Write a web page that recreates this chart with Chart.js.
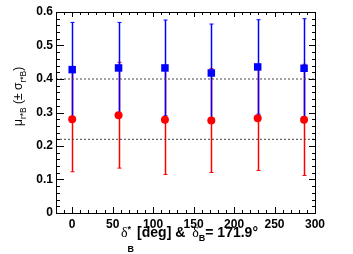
<!DOCTYPE html>
<html>
<head>
<meta charset="utf-8">
<script src="https://cdn.jsdelivr.net/npm/chart.js@4"></script>
<style>
  html, body { margin: 0; padding: 0; background: #fff; }
  #wrap { width: 353px; height: 254px; }
</style>
</head>
<body>
<div id="wrap"><canvas id="chart" width="353" height="254"></canvas></div>
<script>
// delta*_B values (deg)
const deltaStar = [0, 57.3, 114.6, 171.9, 229.2, 286.5];
// blue squares: mu and sigma
const blueMu = [0.428, 0.433, 0.433, 0.418, 0.436, 0.432];
const blueSigma = [0.141, 0.136, 0.143, 0.146, 0.141, 0.148];
// red circles: mu and sigma
const redMu = [0.280, 0.292, 0.278, 0.276, 0.283, 0.278];
const redSigma = [0.157, 0.158, 0.163, 0.155, 0.156, 0.166];
// reference lines
const refLines = [0.4, 0.22];
const xTickValues = [0, 50, 100, 150, 200, 250, 300];

const toPts = (mu, sig) => deltaStar.map((x, i) => ({ x, y: mu[i], err: sig[i] }));

// error bars drawn before the markers, red first so blue sits on top
const errorBars = {
  id: 'errorBars',
  beforeDatasetsDraw(chart) {
    const ctx = chart.ctx, xs = chart.scales.x, ys = chart.scales.y;
    const sets = chart.data.datasets.filter(ds => ds.errBars)
      .sort((a, b) => a.errOrder - b.errOrder);
    sets.forEach(ds => {
      ctx.save();
      ctx.strokeStyle = ds.borderColor;
      ds.data.forEach(p => {
        const px = Math.round(xs.getPixelForValue(p.x)) + 0.5;
        const top = ys.getPixelForValue(p.y + p.err);
        const bot = ys.getPixelForValue(p.y - p.err);
        ctx.lineWidth = 1.5;
        ctx.beginPath(); ctx.moveTo(px, top); ctx.lineTo(px, bot); ctx.stroke();
        ctx.lineWidth = 1;
        ctx.beginPath();
        ctx.moveTo(px - 2, top); ctx.lineTo(px + 2, top);
        ctx.moveTo(px - 2, bot); ctx.lineTo(px + 2, bot);
        ctx.stroke();
      });
      ctx.restore();
    });
  }
};

// ROOT style frame with inward ticks on all sides, plus titles
const frame = {
  id: 'frame',
  afterDraw(chart) {
    const ctx = chart.ctx, a = chart.chartArea, xs = chart.scales.x, ys = chart.scales.y;
    ctx.save();
    ctx.strokeStyle = '#000';
    ctx.lineWidth = 1;
    ctx.strokeRect(Math.round(a.left) + 0.5, Math.round(a.top) + 0.5,
      Math.round(a.right - a.left), Math.round(a.bottom - a.top));
    ctx.beginPath();
    for (let v = -20; v <= 300; v += 10) {
      const px = Math.round(xs.getPixelForValue(v)) + 0.5;
      const major = v % 50 === 0;
      const lb = major ? 6 : 3, lt = major ? 5 : 3;
      ctx.moveTo(px, a.bottom); ctx.lineTo(px, a.bottom - lb);
      ctx.moveTo(px, a.top); ctx.lineTo(px, a.top + lt);
    }
    for (let k = 0; k <= 30; k++) {
      const v = k * 0.02;
      const py = Math.round(ys.getPixelForValue(v)) + 0.5;
      const major = k % 5 === 0;
      const ll = major ? 8 : 4, lr = major ? 6 : 3;
      ctx.moveTo(a.left, py); ctx.lineTo(a.left + ll, py);
      ctx.moveTo(a.right, py); ctx.lineTo(a.right - lr, py);
    }
    ctx.stroke();

    // x title: δ*_B [deg] & δ_B= 171.9°
    ctx.fillStyle = '#000';
    ctx.textBaseline = 'alphabetic';
    const bold = 'bold 14px "Liberation Sans"';
    const serif = '14px "Liberation Serif"';
    const sub = 'bold 9px "Liberation Sans"';
    let x = 121;
    const put = (t, f, dy, adv) => {
      ctx.font = f;
      ctx.fillText(t, x, 237 + dy);
      if (adv) x += ctx.measureText(t).width;
    };
    put('δ', serif, 0, true);
    put('*', sub, -5, false);
    put('B', sub, 15, true);
    x += 3;
    put('[deg] & ', bold, 0, true);
    x += 3;
    put('δ', serif, 0, true);
    put('B', sub, 4, true);
    put('= 171.9°', bold, 0, true);

    // y title: μ_{r*B} (± σ_{r*B}), rotated
    ctx.translate(22, 126);
    ctx.rotate(-Math.PI / 2);
    const yparts = [
      { t: 'μ', f: '12px "Liberation Sans"', dy: 0 },
      { t: 'r*B', f: '8.5px "Liberation Sans"', dy: 4 },
      { t: ' (± σ', f: '12px "Liberation Sans"', dy: 0 },
      { t: 'r*B', f: '8.5px "Liberation Sans"', dy: 4 },
      { t: ')', f: '12px "Liberation Sans"', dy: 0 }
    ];
    let yx = 0;
    yparts.forEach(p => {
      ctx.font = p.f;
      ctx.fillText(p.t, yx, p.dy);
      yx += ctx.measureText(p.t).width;
    });
    ctx.restore();
  }
};

const lineDs = v => ({
  type: 'line',
  data: [{ x: -20, y: v }, { x: 300, y: v }],
  borderColor: '#444',
  borderWidth: 1,
  borderDash: [2, 2],
  pointRadius: 0,
  order: 3
});

new Chart(document.getElementById('chart'), {
  type: 'scatter',
  data: {
    datasets: [
      lineDs(refLines[0]),
      lineDs(refLines[1]),
      {
        data: toPts(blueMu, blueSigma),
        errBars: true,
        errOrder: 2,
        borderColor: '#0000ff',
        backgroundColor: '#0000ff',
        pointStyle: 'rect',
        pointRadius: 5.3,
        borderWidth: 0,
        order: 2
      },
      {
        data: toPts(redMu, redSigma),
        errBars: true,
        errOrder: 1,
        borderColor: '#ff0000',
        backgroundColor: '#ff0000',
        pointStyle: 'circle',
        pointRadius: 4,
        borderWidth: 0,
        order: 1
      }
    ]
  },
  options: {
    responsive: false,
    animation: false,
    layout: { padding: { top: 12, right: 38, left: 0, bottom: 0 } },
    plugins: { legend: { display: false }, tooltip: { enabled: false } },
    scales: {
      x: {
        type: 'linear',
        min: -20, max: 300,
        grid: { display: false, drawTicks: false },
        border: { display: false },
        afterBuildTicks: s => { s.ticks = xTickValues.map(v => ({ value: v })); },
        afterFit: s => { s.height = 41; },
        ticks: { color: '#000', padding: 4, maxRotation: 0, autoSkip: false,
          font: { family: '"Liberation Sans"', size: 12, weight: 'bold' } }
      },
      y: {
        min: 0, max: 0.6,
        grid: { display: false, drawTicks: false },
        border: { display: false },
        afterFit: s => { s.width = 56; },
        ticks: { color: '#000', padding: 3, stepSize: 0.1,
          font: { family: '"Liberation Sans"', size: 12, weight: 'bold' } }
      }
    }
  },
  plugins: [errorBars, frame]
});
</script>
</body>
</html>
